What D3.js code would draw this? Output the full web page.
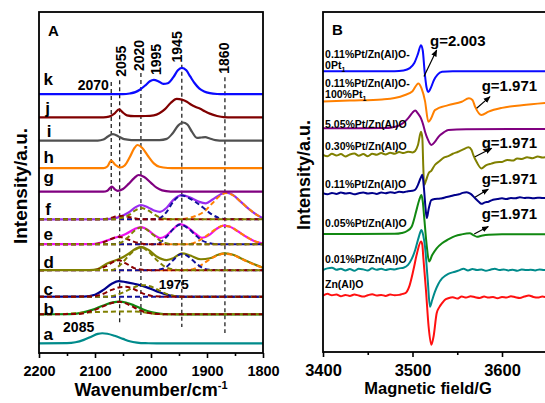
<!DOCTYPE html>
<html>
<head>
<meta charset="utf-8">
<script src="https://cdn.jsdelivr.net/npm/d3@7/dist/d3.min.js"></script>
<style>
  body { margin: 0; background: #fff; }
  svg { display: block; font-family: "Liberation Sans", Arial, sans-serif; font-weight: bold; }
</style>
</head>
<body>
<svg id="chart" width="545" height="403"></svg>
<script>
// ---------- Panel A : IR spectra, [wavenumber, intensity a.u.] ----------
var irA = [[2200,0],[2150,0.05],[2135,0.3],[2120,1.0],[2105,2.1],[2095,2.75],[2087,2.95],[2078,2.8],[2065,2.2],[2050,1.3],[2038,0.6],[2025,0.2],[2010,0.03],[1990,0],[1800,0]];
var irB = [[2200,0],[2145,0.03],[2125,0.4],[2105,1.3],[2085,2.6],[2068,3.5],[2056,3.7],[2045,3.45],[2030,2.6],[2015,1.5],[2000,0.65],[1985,0.2],[1970,0.03],[1950,0],[1800,0]];
var irC = [[2200,0],[2120,0.05],[2100,0.6],[2085,2.0],[2070,3.8],[2058,4.6],[2045,4.3],[2030,3.8],[2015,3.2],[2000,2.3],[1985,1.3],[1970,0.5],[1955,0.1],[1940,0],[1800,0]];
var irD = [[2200,0],[2110,0.02],[2095,0.3],[2080,1.8],[2063,2.9],[2055,3.4],[2040,4.8],[2028,6.2],[2018,6.85],[2005,6.0],[1990,4.0],[1972,2.95],[1960,3.5],[1945,4.9],[1930,4.3],[1911,3.2],[1895,3.5],[1880,4.5],[1870,4.9],[1855,4.6],[1840,3.5],[1820,2.0],[1800,0.7]];
var irE = [[2200,0],[2110,0.02],[2096,0.2],[2080,1.0],[2065,1.9],[2058,2.2],[2045,3.0],[2030,4.4],[2018,5.0],[2005,4.1],[1995,2.8],[1984,1.8],[1972,2.6],[1960,4.5],[1948,5.9],[1935,5.0],[1920,3.0],[1909,1.9],[1895,2.8],[1882,4.6],[1871,5.45],[1860,5.2],[1845,3.8],[1830,2.2],[1815,0.9],[1800,0.2]];
var irF = [[2200,0],[2085,0.02],[2071,0.15],[2055,0.8],[2040,2.0],[2028,3.5],[2018,4.2],[2005,3.5],[1993,2.5],[1984,2.2],[1972,3.4],[1960,5.7],[1945,7.1],[1930,6.4],[1915,5.2],[1902,4.7],[1890,5.8],[1876,7.3],[1866,7.8],[1855,7.3],[1840,5.2],[1825,3.0],[1810,1.2],[1800,0.3]];
var irG = [[2200,0],[2085,0],[2078,0.3],[2070,1.5],[2064,0.6],[2060,0.25],[2050,0.8],[2040,2.3],[2030,4.0],[2022,4.9],[2012,4.3],[2000,2.6],[1990,1.2],[1980,0.4],[1965,0.05],[1950,0],[1800,0]];
var irH = [[2200,0],[2085,0],[2078,0.5],[2071,2.2],[2064,1.0],[2055,0.2],[2047,0.8],[2038,3.2],[2030,5.8],[2024,6.8],[2016,6.0],[2005,3.5],[1995,1.4],[1985,0.4],[1970,0.05],[1955,0],[1800,0]];
var irI = [[2200,0],[2095,0],[2085,0.3],[2077,1.2],[2068,1.9],[2058,1.2],[2048,0.4],[2035,0.15],[2010,0.1],[1985,0.15],[1972,0.5],[1962,2.0],[1952,4.3],[1943,5.3],[1935,4.7],[1927,2.6],[1918,0.8],[1910,0.9],[1903,1.0],[1895,0.6],[1885,0.15],[1870,0],[1800,0]];
var irJ = [[2200,0],[2085,0],[2075,0.2],[2066,1.0],[2057,2.35],[2050,1.4],[2043,0.6],[2030,0.35],[2010,0.4],[1995,0.6],[1985,1.2],[1975,2.4],[1965,4.2],[1954,5.4],[1945,5.2],[1936,4.6],[1928,3.7],[1921,3.1],[1912,2.5],[1904,1.8],[1895,1.1],[1882,0.4],[1870,0.05],[1855,0],[1800,0]];
var irK = [[2200,0],[2050,0],[2038,0.2],[2028,0.6],[2020,1.3],[2010,2.6],[2002,3.8],[1995,4.2],[1987,3.8],[1978,3.0],[1970,3.2],[1960,5.0],[1952,7.0],[1945,7.7],[1937,7.0],[1930,5.2],[1922,3.2],[1914,1.7],[1905,0.8],[1895,0.3],[1882,0.05],[1870,0],[1800,0]];

// fitted components (dashed)
var fitB2055 = [[2200,0],[2130,0.1],[2100,1.3],[2080,2.7],[2065,3.5],[2056,3.65],[2045,3.2],[2030,2.0],[2015,0.9],[2000,0.3],[1980,0.05],[1960,0],[1800,0]];
var fitB2020 = [[2200,0],[2160,0.1],[2120,0.5],[2080,0.75],[2040,0.8],[2020,0.75],[2005,0.4],[1990,0.1],[1970,0],[1800,0]];
var fitC2055 = [[2200,0],[2110,0.05],[2090,0.6],[2070,2.0],[2055,2.8],[2045,2.9],[2030,2.2],[2015,1.0],[2000,0.3],[1985,0.05],[1970,0],[1800,0]];
var fitC2020 = [[2200,0],[2080,0],[2060,0.6],[2040,2.0],[2025,3.1],[2012,3.4],[2000,3.0],[1985,1.8],[1970,0.7],[1955,0.15],[1940,0],[1800,0]];
var fitC1975 = [[2200,0],[1800,0]];
var fitD2055 = [[2200,0],[2100,0.05],[2080,1.2],[2065,2.6],[2058,2.9],[2045,2.0],[2030,0.6],[2015,0.1],[2000,0],[1800,0]];
var fitD2020 = [[2200,0],[2070,0.05],[2055,1.5],[2040,4.2],[2028,6.0],[2018,6.6],[2005,5.5],[1990,3.0],[1975,1.0],[1960,0.2],[1945,0],[1800,0]];
var fitD1945 = [[2200,0],[2000,0],[1985,0.2],[1972,1.0],[1960,3.0],[1950,4.5],[1945,4.7],[1935,4.2],[1925,2.8],[1915,1.4],[1905,0.4],[1890,0.05],[1875,0],[1800,0]];
var fitD1860 = [[2200,0],[1945,0],[1925,0.3],[1910,1.5],[1895,3.2],[1880,4.4],[1870,4.8],[1855,4.5],[1840,3.4],[1820,1.9],[1800,0.7]];
var fitE2055 = [[2200,0],[2100,0.05],[2085,0.6],[2070,1.6],[2058,2.2],[2045,1.7],[2030,0.7],[2015,0.15],[2000,0],[1800,0]];
var fitE2020 = [[2200,0],[2065,0],[2050,0.8],[2040,2.2],[2030,3.9],[2018,4.9],[2005,4.0],[1995,2.6],[1985,1.2],[1975,0.4],[1960,0],[1800,0]];
var fitE1945 = [[2200,0],[1995,0],[1985,0.4],[1972,2.2],[1960,4.5],[1948,5.8],[1935,4.8],[1920,2.6],[1910,1.2],[1895,0.3],[1880,0],[1800,0]];
var fitE1860 = [[2200,0],[1935,0],[1920,0.6],[1905,2.0],[1890,3.8],[1880,4.9],[1871,5.4],[1860,5.2],[1845,3.8],[1830,2.2],[1815,0.9],[1800,0.2]];
var fitF2055 = [[2200,0],[2090,0],[2075,0.3],[2060,0.9],[2050,1.0],[2040,0.7],[2025,0.2],[2010,0],[1800,0]];
var fitF2020 = [[2200,0],[2070,0],[2055,0.3],[2040,1.2],[2028,2.6],[2018,3.3],[2005,2.6],[1995,1.5],[1985,0.6],[1975,0.15],[1960,0],[1800,0]];
var fitF1945 = [[2200,0],[1995,0],[1985,0.3],[1972,2.2],[1960,5.2],[1945,7.0],[1930,6.0],[1918,4.8],[1905,3.2],[1893,1.6],[1880,0.5],[1865,0.05],[1850,0],[1800,0]];
var fitF1860 = [[2200,0],[1950,0],[1935,0.3],[1920,1.0],[1905,2.3],[1890,4.8],[1876,7.0],[1866,7.7],[1855,7.2],[1840,5.2],[1825,3.0],[1810,1.2],[1800,0.3]];

var irLetters = ["a","b","c","d","e","f","g","h","i","j","k"];
var guideValues = [2071, 2056, 2018, 1945, 1868];
var guideLabels = ["2070", "2055", "2020", "1945", "1860"];
var wavenumberTicks = [2200, 2100, 2000, 1900, 1800];
var wavenumberMinor = [2150, 2050, 1950, 1850];

// ---------- Panel B : EPR spectra, [field G, signal a.u.] ----------
var eprPt0 = [[3400,0],[3480,0],[3490,0.2],[3497,0.9],[3502,2.4],[3506,5.0],[3509.5,7.65],[3511.5,6.0],[3513.5,0],[3515.5,-4.5],[3517.7,-6.1],[3520,-5.2],[3524,-2.6],[3528,-1.0],[3533,-0.2],[3545,0],[3650,0]];
var eprPt100 = [[3400,-0.15],[3430,0.15],[3466,0.5],[3480,0.9],[3491.6,1.8],[3500,2.9],[3506.5,5.2],[3510,3.8],[3514,0],[3517.7,-6.1],[3521,-5.0],[3525,-2.65],[3540,-1.2],[3555,-0.2],[3563,0.8],[3567,0.3],[3570,-1.7],[3577,-4.1],[3585,-3.1],[3600,-2.0],[3622,-1.2],[3650,-0.5]];
var epr505 = [[3400,0],[3470,0.05],[3478,0.3],[3484,0.7],[3490,1.6],[3495,2.9],[3500,4.6],[3503,5.2],[3506,4.4],[3509.5,2.9],[3512,1.0],[3514,-1.0],[3517,-3.2],[3521,-4.9],[3525,-4.0],[3529,-2.5],[3535,-1.2],[3540,-0.5],[3560,-0.3],[3650,-0.2]];
var epr030 = [[3400,0.1],[3405,-0.3],[3410,0.4],[3415,-0.1],[3420,0.3],[3425,-0.4],[3430,0.2],[3435,0.5],[3440,-0.2],[3445,0.3],[3450,-0.3],[3455,0.4],[3460,0.1],[3465,0.6],[3470,0.2],[3475,0.7],[3480,0.4],[3485,0.9],[3490,0.6],[3495,1.0],[3500,0.8],[3503,1.2],[3506,2.9],[3509.5,6.85],[3511,5.0],[3512,-3.0],[3513,-8.8],[3515,-7.5],[3518,-5.3],[3521,-4.6],[3525,-2.9],[3530,-1.8],[3535,-0.7],[3540,-0.3],[3545,0.4],[3551,1.0],[3556,1.6],[3562.6,2.3],[3566,1.5],[3568,0.0],[3572,-2.2],[3577,-3.9],[3582,-3.0],[3588,-2.5],[3594,-2.1],[3600,-2.0],[3606,-1.4],[3612,-1.6],[3617,-1.0],[3622,-1.1],[3628,-0.6],[3634,-0.9],[3640,-0.4],[3645,-0.7],[3650,-0.5]];
var epr011 = [[3400,0.2],[3405,-0.1],[3410,0.3],[3415,0.0],[3420,0.4],[3425,0.1],[3430,0.3],[3435,-0.1],[3440,0.2],[3445,0.4],[3450,0.1],[3455,0.3],[3460,0.0],[3465,0.4],[3470,0.2],[3475,0.5],[3480,0.3],[3485,0.6],[3490,0.5],[3495,0.8],[3500,0.9],[3503,1.2],[3506,2.6],[3509,4.6],[3511,5.6],[3513,1.0],[3514.5,-4.0],[3516,-7.1],[3518,-4.5],[3521,-1.8],[3525,-1.5],[3530,-1.4],[3533,-1.3],[3537,-1.0],[3542,-0.7],[3547.5,-0.3],[3552,-0.1],[3556,0.3],[3560.6,0.5],[3565,0.0],[3570,-1.3],[3574,-2.3],[3577,-2.9],[3581,-2.5],[3585,-2.3],[3590,-1.7],[3595,-1.5],[3600,-1.3],[3605,-1.5],[3610,-1.2],[3615,-1.3],[3620,-1.0],[3625,-1.2],[3630,-1.1],[3635,-1.3],[3640,-1.1],[3645,-1.2],[3650,-1.2]];
var epr005 = [[3400,0],[3480,0.05],[3488,0.3],[3494,0.9],[3499,2.15],[3504.5,7.1],[3507.5,10.0],[3510,11.5],[3511.5,9.5],[3513,5.1],[3516,-3.7],[3518.5,-8.1],[3522,-6.2],[3527,-4.2],[3533,-2.7],[3540,-1.6],[3547.5,-0.6],[3555,-0.1],[3564,0.2],[3568,-0.3],[3572,-0.8],[3577,-0.5],[3585,-0.2],[3600,-0.1],[3650,-0.1]];
var epr001 = [[3400,-0.2],[3405,0.3],[3410,0.5],[3415,-0.1],[3420,0.2],[3425,-0.3],[3430,0.1],[3435,-0.4],[3440,0.2],[3445,0.0],[3450,-0.3],[3455,0.3],[3460,-0.1],[3465,0.2],[3470,-0.2],[3475,0.1],[3480,0.0],[3485,0.3],[3490,0.5],[3495,1.3],[3499,3.0],[3503,5.7],[3507,9.5],[3510,11.6],[3512,10.0],[3514,6.6],[3517,-3.1],[3519.5,-11.0],[3522,-9.0],[3525,-6.6],[3529,-4.2],[3533,-2.65],[3540,-1.3],[3547.5,-0.7],[3552,-0.3],[3557,0.2],[3562,-0.3],[3567,0.1],[3572,-0.2],[3577,0.0],[3582,-0.4],[3587,-0.1],[3592,0.2],[3597,-0.2],[3602,0.0],[3607,-0.3],[3612,-0.1],[3617,-0.4],[3622,0.0],[3627,-0.2],[3632,-0.1],[3637,-0.3],[3642,0.0],[3647,-0.2],[3650,-0.1]];
var eprZnAlO = [[3400,0.1],[3405,0.6],[3410,0.2],[3415,0.4],[3420,-0.1],[3425,0.3],[3430,0.0],[3435,0.4],[3440,0.1],[3445,-0.2],[3450,0.2],[3455,0.5],[3460,0.1],[3465,0.3],[3470,0.0],[3475,0.4],[3480,0.2],[3485,0.3],[3489,0.6],[3492,0.8],[3496,2.5],[3501,7.6],[3505,12.5],[3509.5,16.0],[3511,15.0],[3512,11.6],[3515,1.8],[3518,-9.0],[3521,-14.4],[3523.5,-12.0],[3527,-5.1],[3530,-3.3],[3533,-2.15],[3536,-1.2],[3540,-0.7],[3545,-0.4],[3550,-0.8],[3555,-0.2],[3560,-0.5],[3565,-0.1],[3570,-0.4],[3575,-0.6],[3580,-0.2],[3585,-0.5],[3590,-0.3],[3595,-0.7],[3600,-0.3],[3605,-0.5],[3610,-0.1],[3615,-0.4],[3620,-0.6],[3625,-0.2],[3630,0.1],[3635,-0.3],[3640,-0.5],[3645,-0.2],[3650,-0.4]];

var eprNames = ["0.11%Pt/Zn(Al)O-|0Pt", "0.11%Pt/Zn(Al)O-|100%Pt", "5.05%Pt/Zn(Al)O", "0.30%Pt/Zn(Al)O",
                "0.11%Pt/Zn(Al)O", "0.05%Pt/Zn(Al)O", "0.01%Pt/Zn(Al)O", "Zn(Al)O"];
var gValues = ["g=2.003", "g=1.971", "g=1.971", "g=1.971", "g=1.971"];
var fieldTicks = [3400, 3500, 3600];
var fieldMinor = [3450, 3550, 3650];

// ---------- drawing ----------
var svg = d3.select("#chart");
var bold = "bold";
var plain = d3.format("d");

var defs = svg.append("defs");
defs.append("marker").attr("id", "arrow").attr("viewBox", "0 0 10 10")
  .attr("refX", 9).attr("refY", 5).attr("markerWidth", 7).attr("markerHeight", 7)
  .attr("orient", "auto").attr("markerUnits", "userSpaceOnUse")
  .append("path").attr("d", "M0,1 L10,5 L0,9 Z").attr("fill", "#000");
defs.append("clipPath").attr("id", "clipB").append("rect")
  .attr("x", 323).attr("y", 12).attr("width", 224).attr("height", 340);
defs.append("clipPath").attr("id", "clipA").append("rect")
  .attr("x", 39).attr("y", 12).attr("width", 224).attr("height", 341);

// ===== Panel A =====
var xA = d3.scaleLinear().domain([2200, 1800]).range([39, 263]);
var yA = d3.scaleLinear().domain([0, 100]).range([353, 12]);

function lineA(off) {
  return d3.line().x(function(d) { return xA(d[0]); })
    .y(function(d) { return yA(d[1] + off); })
    .curve(d3.curveMonotoneX);
}

var dred = "#8b0000", oliveC = "#808000", blueC = "#10109a", orangeC = "#ff8000";

// stacking, colours and label spots for each trace
var stackA = [
  { data: irA, off: 2.84, color: "#008b8b", ly: 3.8, lx: 2192, fits: [] },
  { data: irB, off: 11.35, color: "#118811", ly: 11.1, lx: 2192, fits: [[fitB2020, oliveC], [fitB2055, dred]] },
  { data: irC, off: 16.5, color: "#00008b", ly: 17.0, lx: 2192, fits: [[fitC1975, blueC], [fitC2020, oliveC], [fitC2055, dred]] },
  { data: irD, off: 24.3, color: "#808000", ly: 24.9, lx: 2192, fits: [[fitD1860, orangeC], [fitD1945, blueC], [fitD2055, dred], [fitD2020, oliveC]] },
  { data: irE, off: 31.9, color: "#ee11ee", ly: 33.1, lx: 2192, fits: [[fitE1860, orangeC], [fitE1945, blueC], [fitE2055, dred], [fitE2020, oliveC]] },
  { data: irF, off: 39.2, color: "#9a2cf0", ly: 40.5, lx: 2189, fits: [[fitF1860, orangeC], [fitF1945, blueC], [fitF2055, dred], [fitF2020, oliveC]] },
  { data: irG, off: 47.3, color: "#800080", ly: 49.9, lx: 2192, fits: [] },
  { data: irH, off: 54.2, color: "#ff8000", ly: 55.7, lx: 2192, fits: [] },
  { data: irI, off: 62.3, color: "#505050", ly: 63.3, lx: 2186, fits: [] },
  { data: irJ, off: 69.1, color: "#800000", ly: 70.1, lx: 2189, fits: [] },
  { data: irK, off: 75.9, color: "#0a0aff", ly: 78.6, lx: 2192, fits: [] }
];

var gA = svg.append("g");
var plotA = gA.append("g").attr("clip-path", "url(#clipA)");

// guide lines
var guideSpans = [[79.5, 45.7], [80, 8.8], [82.1, 10.6], [84.5, 7.6], [80.9, 5.9]];
guideValues.forEach(function(v, i) {
  plotA.append("line")
    .attr("x1", xA(v)).attr("x2", xA(v))
    .attr("y1", yA(guideSpans[i][0])).attr("y2", yA(guideSpans[i][1]))
    .attr("stroke", "#222").attr("stroke-width", 1.3).attr("stroke-dasharray", "4,3");
});

stackA.forEach(function(s, i) {
  plotA.append("path").datum(s.data)
    .attr("d", lineA(s.off)).attr("fill", "none")
    .attr("stroke", s.color).attr("stroke-width", 2.2);
  s.fits.forEach(function(f) {
    plotA.append("path").datum(f[0])
      .attr("d", lineA(s.off)).attr("fill", "none")
      .attr("stroke", f[1]).attr("stroke-width", 2).attr("stroke-dasharray", "5,3");
  });
  gA.append("text").attr("x", xA(s.lx)).attr("y", yA(s.ly))
    .attr("font-size", 17).attr("font-weight", bold).text(irLetters[i]);
});

// peak labels
var rotLabelPos = [null, [2045, 81.0], [2012, 82.7], [1945, 85.2], [1860, 81.9]];
gA.append("text").attr("x", xA(2131)).attr("y", yA(77.1)).attr("font-size", 14).text(guideLabels[0]);
for (var i = 1; i < guideLabels.length; i++) {
  gA.append("text")
    .attr("transform", "translate(" + xA(rotLabelPos[i][0]) + "," + yA(rotLabelPos[i][1]) + ") rotate(-90)")
    .attr("font-size", 14).text(guideLabels[i]);
}
gA.append("text")
  .attr("transform", "translate(" + xA(1983) + "," + yA(81.5) + ") rotate(-90)")
  .attr("font-size", 14).text("1995");
gA.append("text").attr("x", xA(1986)).attr("y", yA(18.8)).attr("font-size", 13.5).text("1975");
gA.append("text").attr("x", xA(2157)).attr("y", yA(6.2)).attr("font-size", 14).text("2085");
gA.append("text").attr("x", 48).attr("y", 36).attr("font-size", 15).text("A");

gA.append("rect").attr("x", 39).attr("y", 12).attr("width", 224).attr("height", 341)
  .attr("fill", "none").attr("stroke", "#000").attr("stroke-width", 1.8);

var axA = gA.append("g").attr("transform", "translate(0,353)")
  .call(d3.axisBottom(xA).tickValues(wavenumberTicks).tickFormat(plain).tickSize(5).tickPadding(8));
axA.selectAll("text").attr("font-size", 14.5).attr("font-weight", bold).attr("font-family", "Liberation Sans, Arial, sans-serif").attr("fill", "#000");
var axAm = gA.append("g").attr("transform", "translate(0,353)")
  .call(d3.axisBottom(xA).tickValues(wavenumberMinor).tickSize(3).tickFormat(""));
[axA, axAm].forEach(function(a) {
  a.select(".domain").remove();
  a.selectAll("line").attr("stroke", "#000").attr("stroke-width", 1.6);
});

var xlabA = gA.append("text").attr("x", 151).attr("y", 396).attr("text-anchor", "middle").attr("font-size", 18);
xlabA.append("tspan").text("Wavenumber/cm");
xlabA.append("tspan").attr("dy", -7).attr("font-size", 11).text("-1");
gA.append("text").attr("transform", "translate(27,186) rotate(-90)")
  .attr("text-anchor", "middle").attr("font-size", 19).text("Intensity/a.u.");

// ===== Panel B =====
var xB = d3.scaleLinear().domain([3400, 3650]).range([323, 546.75]);
var yB = d3.scaleLinear().domain([0, 100]).range([352, 12]);

var stackB = [
  { data: eprPt0, off: 82.6, color: "#0a0aff" },
  { data: eprPt100, off: 73.8, color: "#ff8000" },
  { data: epr505, off: 65.8, color: "#800080" },
  { data: epr030, off: 57.9, color: "#808000" },
  { data: epr011, off: 46.5, color: "#00008b" },
  { data: epr005, off: 34.7, color: "#118811" },
  { data: epr001, off: 24.3, color: "#008b8b" },
  { data: eprZnAlO, off: 16.5, color: "#ff1010" }
];
// label baselines (a.u.), second line where the name wraps
var nameSpots = [[86.5, 83.2], [78.0, 74.7], [65.9], [59.4], [48.2], [36.8], [26.2], [18.8]];

var gB = svg.append("g");
var plotB = gB.append("g").attr("clip-path", "url(#clipB)");

stackB.forEach(function(s, i) {
  plotB.append("path").datum(s.data)
    .attr("d", d3.line().x(function(d) { return xB(d[0]); })
      .y(function(d) { return yB(d[1] + s.off); }).curve(d3.curveMonotoneX))
    .attr("fill", "none").attr("stroke", s.color).attr("stroke-width", 2);
});

eprNames.forEach(function(n, i) {
  var parts = n.split("|");
  gB.append("text").attr("x", xB(3402.3)).attr("y", yB(nameSpots[i][0]))
    .attr("font-size", 10.5).text(parts[0]);
  if (parts.length > 1) {
    var t = gB.append("text").attr("x", xB(3402.3)).attr("y", yB(nameSpots[i][1])).attr("font-size", 10.5);
    t.append("tspan").text(parts[1]);
    t.append("tspan").attr("dy", 3).attr("font-size", 7).text("1");
  }
});

// g-factor notes: [text x, text y, arrow from x,y, arrow to x,y]
var gSpots = [
  [3519.6, 90.0, 3512.8, 81.0, 3527.0, 88.8],
  [3577.3, 76.8, 3571.7, 71.7, 3586.6, 75.1],
  [3577.3, 60.1, 3569.8, 57.4, 3588.5, 59.9],
  [3577.3, 49.4, 3569.8, 45.5, 3584.7, 47.9],
  [3577.3, 39.1, 3569.0, 34.7, 3584.7, 36.9]
];
gValues.forEach(function(g, i) {
  var p = gSpots[i];
  gB.append("line").attr("x1", xB(p[2])).attr("y1", yB(p[3]))
    .attr("x2", xB(p[4])).attr("y2", yB(p[5]))
    .attr("stroke", "#000").attr("stroke-width", 1.2).attr("marker-end", "url(#arrow)");
  gB.append("text").attr("x", xB(p[0])).attr("y", yB(p[1])).attr("font-size", 15).text(g);
});

gB.append("text").attr("x", 332).attr("y", 35).attr("font-size", 15).text("B");

gB.append("rect").attr("x", 323).attr("y", 12).attr("width", 223.75).attr("height", 340)
  .attr("fill", "none").attr("stroke", "#000").attr("stroke-width", 1.8);

var axB = gB.append("g").attr("transform", "translate(0,352)")
  .call(d3.axisBottom(xB).tickValues(fieldTicks).tickFormat(plain).tickSize(5).tickPadding(7));
axB.selectAll("text").attr("font-size", 16.5).attr("font-weight", bold).attr("font-family", "Liberation Sans, Arial, sans-serif").attr("fill", "#000");
var axBm = gB.append("g").attr("transform", "translate(0,352)")
  .call(d3.axisBottom(xB).tickValues(fieldMinor).tickSize(3).tickFormat(""));
[axB, axBm].forEach(function(a) {
  a.select(".domain").remove();
  a.selectAll("line").attr("stroke", "#000").attr("stroke-width", 1.6);
});

gB.append("text").attr("x", 428).attr("y", 394).attr("text-anchor", "middle")
  .attr("font-size", 16.5).text("Magnetic field/G");
gB.append("text").attr("transform", "translate(310,175) rotate(-90)")
  .attr("text-anchor", "middle").attr("font-size", 18).text("Intensity/a.u.");
</script>
</body>
</html>
